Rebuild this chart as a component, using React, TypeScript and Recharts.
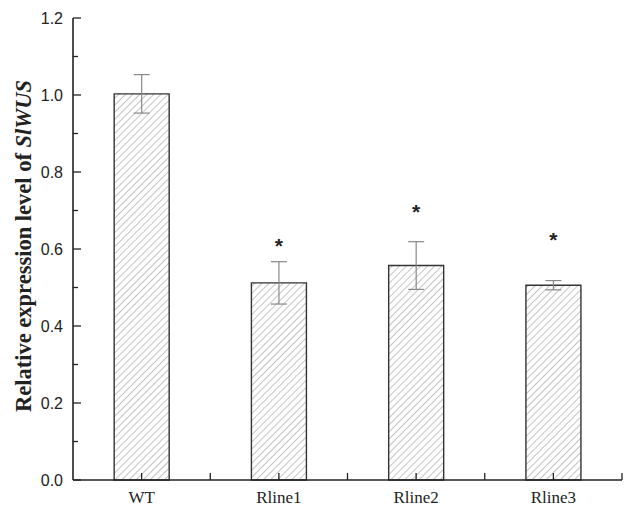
import React from 'react';
import { ComposedChart, Bar, Scatter, XAxis, YAxis, ErrorBar } from 'recharts';

const categories = ['WT', 'Rline1', 'Rline2', 'Rline3'];
const means = [1.003, 0.512, 0.557, 0.506];
const errors = [0.05, 0.055, 0.062, 0.012];
const starLevels: (number | null)[] = [null, 0.615, 0.705, 0.63];
const yTicks = [0, 0.1, 0.2, 0.3, 0.4, 0.5, 0.6, 0.7, 0.8, 0.9, 1.0, 1.1, 1.2];

const data = categories.map((name, i) => ({
  name,
  mean: means[i],
  err: errors[i],
  star: starLevels[i],
}));

const AXIS = '#222';

function XTick(props: any) {
  const { x, y, payload } = props;
  const half = payload.offset || 0;
  return (
    <g>
      <line x1={x} x2={x} y1={y} y2={y - 7} stroke={AXIS} strokeWidth={1.3} />
      <line x1={x + half} x2={x + half} y1={y} y2={y - 7} stroke={AXIS} strokeWidth={1.3} />
      <text
        x={x}
        y={y + 23}
        textAnchor="middle"
        fontFamily="'Liberation Serif', serif"
        fontSize={17}
        fill="#222"
      >
        {payload.value}
      </text>
    </g>
  );
}

function YTick(props: any) {
  const { x, y, payload, index } = props;
  const major = index % 2 === 0;
  return (
    <g>
      <line x1={x} x2={x + (major ? 8 : 5)} y1={y} y2={y} stroke={AXIS} strokeWidth={1.3} />
      {major && (
        <text
          x={x - 10}
          y={y + 6}
          textAnchor="end"
          fontFamily="'Liberation Sans', Arial, sans-serif"
          fontSize={16}
          fill="#222"
        >
          {payload.value.toFixed(1)}
        </text>
      )}
    </g>
  );
}

function YLabel(props: any) {
  const { viewBox } = props;
  const cx = 23;
  const cy = viewBox.y + viewBox.height / 2 - 3;
  return (
    <text
      x={cx}
      y={cy}
      transform={`rotate(-90, ${cx}, ${cy})`}
      textAnchor="middle"
      dominantBaseline="central"
      fontFamily="'Liberation Serif', 'Times New Roman', serif"
      fontWeight="bold"
      fontSize={22.5}
      fill="#222"
    >
      Relative expression level of <tspan fontStyle="italic">SlWUS</tspan>
    </text>
  );
}

function Star(props: any) {
  const { cx, cy } = props;
  if (cx == null || cy == null) return null;
  return (
    <text
      x={cx}
      y={cy + 10}
      textAnchor="middle"
      fontFamily="'Liberation Sans', Arial, sans-serif"
      fontWeight="bold"
      fontSize={21}
      fill="#222"
    >
      *
    </text>
  );
}

export default function App() {
  return (
    <div style={{ position: 'absolute', left: 0, top: 0, background: '#fff' }}>
      <ComposedChart
        width={633}
        height={513}
        data={data}
        margin={{ top: 18, right: 11, bottom: 0, left: 0 }}
        barCategoryGap="30%"
      >
        <defs>
          <pattern
            id="hatch"
            patternUnits="userSpaceOnUse"
            width={5}
            height={5}
            patternTransform="rotate(45)"
          >
            <rect width={5} height={5} fill="#fff" />
            <line x1={0} y1={0} x2={0} y2={5} stroke="#8a8a8a" strokeWidth={1} />
          </pattern>
        </defs>
        <XAxis
          dataKey="name"
          axisLine={{ stroke: AXIS, strokeWidth: 1.6 }}
          tickLine={false}
          tickSize={0}
          tickMargin={0}
          tick={<XTick />}
          interval={0}
          height={33}
        />
        <YAxis
          domain={[0, 1.2]}
          ticks={yTicks}
          interval={0}
          width={73}
          axisLine={{ stroke: AXIS, strokeWidth: 1.6 }}
          tickLine={false}
          tickSize={0}
          tickMargin={0}
          tick={<YTick />}
          label={<YLabel />}
        />
        <Bar
          dataKey="mean"
          fill="url(#hatch)"
          stroke="#333"
          strokeWidth={1.4}
          isAnimationActive={false}
        >
          <ErrorBar dataKey="err" width={8} stroke="#888" strokeWidth={1.2} direction="y" />
        </Bar>
        <Scatter dataKey="star" shape={<Star />} isAnimationActive={false} />
      </ComposedChart>
    </div>
  );
}
